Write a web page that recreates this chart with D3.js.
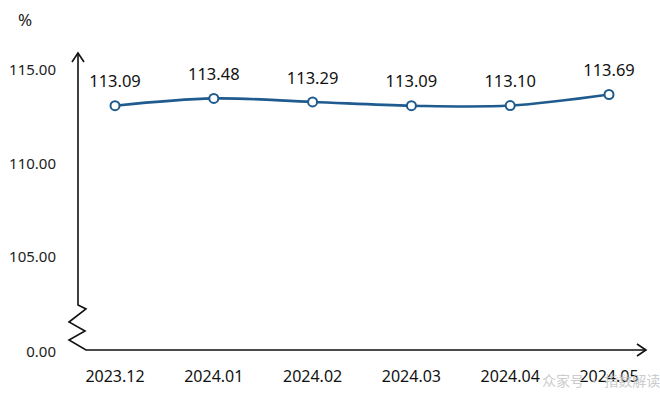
<!DOCTYPE html>
<html>
<head>
<meta charset="utf-8">
<script src="https://cdn.jsdelivr.net/npm/d3@7"></script>
<style>
  body { margin: 0; background: #fff; }
  svg { display: block; font-family: "Noto Sans", "Open Sans", sans-serif; }
</style>
</head>
<body>
<svg></svg>
<script>
const width = 660;
const height = 398;

const months = ["2023.12", "2024.01", "2024.02", "2024.03", "2024.04", "2024.05"];
const values = [113.09, 113.48, 113.29, 113.09, 113.10, 113.69];
const yTicks = [0, 105, 110, 115];

const svg = d3.select("svg")
    .attr("width", width)
    .attr("height", height);

// broken axis: 0 sits under the zigzag, 105..115 is linear
const y = d3.scaleLinear()
    .domain([0, 105, 115])
    .range([352, 257, 70]);

const x = d3.scalePoint()
    .domain(months)
    .range([115, 609]);

const axisColor = "#111";

// y axis with the break, then the x axis
const axisPath = d3.path();
axisPath.moveTo(78, 53);
axisPath.lineTo(78, 305);
axisPath.lineTo(86, 309);
axisPath.lineTo(69, 322);
axisPath.lineTo(85, 331);
axisPath.lineTo(69, 340);
axisPath.lineTo(86, 350);
axisPath.lineTo(646, 350);

svg.append("path")
    .attr("d", axisPath.toString())
    .attr("fill", "none")
    .attr("stroke", axisColor)
    .attr("stroke-width", 1.6);

// arrow heads
svg.append("path")
    .attr("d", "M72,62 L78,53 L84,62")
    .attr("fill", "none")
    .attr("stroke", axisColor)
    .attr("stroke-width", 1.6);

svg.append("path")
    .attr("d", "M637,344 L646,350 L637,356")
    .attr("fill", "none")
    .attr("stroke", axisColor)
    .attr("stroke-width", 1.6);

// y tick labels
svg.append("g")
    .selectAll("text")
    .data(yTicks)
    .enter().append("text")
    .attr("x", 56)
    .attr("y", d => y(d))
    .attr("dy", "0.35em")
    .attr("text-anchor", "end")
    .attr("font-size", 15)
    .attr("fill", "#222")
    .text(d => d.toFixed(2));

svg.append("text")
    .attr("x", 18)
    .attr("y", 26)
    .attr("font-size", 17)
    .attr("fill", "#222")
    .text("%");

// x labels
svg.append("g")
    .selectAll("text")
    .data(months)
    .enter().append("text")
    .attr("x", d => x(d))
    .attr("y", 376)
    .attr("dy", "0.35em")
    .attr("text-anchor", "middle")
    .attr("font-size", 16)
    .attr("fill", "#111")
    .text(d => d);

// line
const points = months.map((m, i) => ({ month: m, value: values[i] }));

const line = d3.line()
    .x(d => x(d.month))
    .y(d => y(d.value))
    .curve(d3.curveCatmullRom.alpha(0.5));

svg.append("path")
    .datum(points)
    .attr("d", line)
    .attr("fill", "none")
    .attr("stroke", "#1f5b8e")
    .attr("stroke-width", 2.6);

svg.append("g")
    .selectAll("circle")
    .data(points)
    .enter().append("circle")
    .attr("cx", d => x(d.month))
    .attr("cy", d => y(d.value))
    .attr("r", 4.5)
    .attr("fill", "#fff")
    .attr("stroke", "#1f5b8e")
    .attr("stroke-width", 2);

svg.append("g")
    .selectAll("text")
    .data(points)
    .enter().append("text")
    .attr("x", d => x(d.month))
    .attr("y", d => y(d.value) - 24)
    .attr("dy", "0.35em")
    .attr("text-anchor", "middle")
    .attr("font-size", 16.5)
    .attr("fill", "#111")
    .text(d => d.value.toFixed(2));

// watermark
svg.append("text")
    .attr("x", 542)
    .attr("y", 386)
    .attr("font-size", 14)
    .attr("fill", "#c4c4c4")
    .attr("opacity", 0.85)
    .attr("font-family", "Noto Sans CJK SC, sans-serif")
    .text("众家号 · 指数解读");
</script>
</body>
</html>
